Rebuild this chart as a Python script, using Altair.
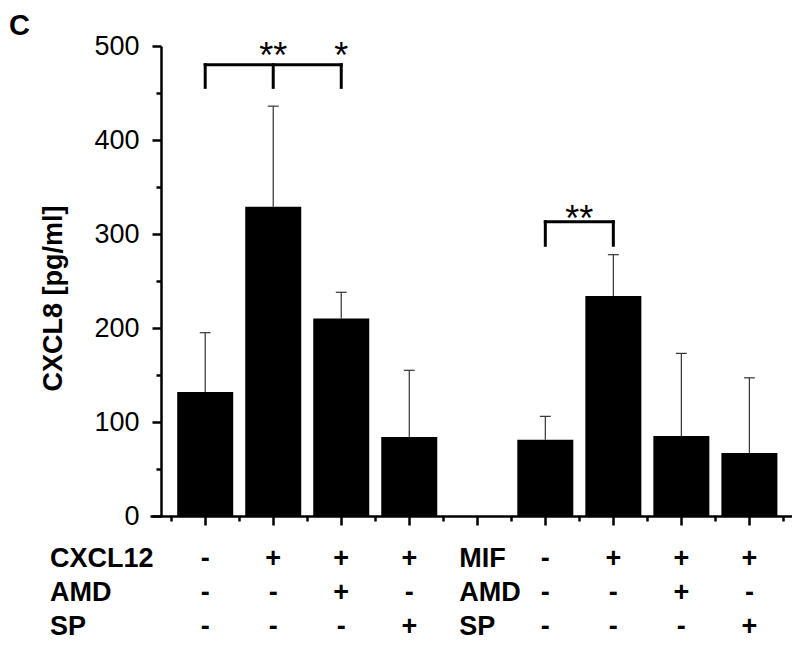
import altair as alt
import pandas as pd

FONT = "Liberation Sans"

# ---- data ----
positions = [1, 2, 3, 4, 6, 7, 8, 9]
means = [132, 329, 210, 84, 81, 234, 85, 67]
err_tops = [195, 436, 238, 155, 106, 278, 173, 147]

row_names = ["CXCL12", "AMD", "SP"]
group2_names = ["MIF", "AMD", "SP"]
cxcl_signs = ["-", "+", "+", "+", "-", "+", "+", "+"]
amd_signs = ["-", "-", "+", "-", "-", "-", "+", "-"]
sp_signs = ["-", "-", "-", "+", "-", "-", "-", "+"]

y_ticks = [0, 50, 100, 150, 200, 250, 300, 350, 400, 450, 500]
x_ticks = [0.5, 1, 1.5, 2, 2.5, 3, 3.5, 4, 4.5, 5, 5.5, 6, 6.5, 7, 7.5, 8, 8.5, 9, 9.5]

bracket_h_x1 = [1, 6]
bracket_h_x2 = [3, 7]
bracket_h_y = [480, 313]
bracket_v_x = [1, 2, 3, 6, 7]
bracket_v_top = [480, 480, 480, 313, 313]
bracket_v_bottom = [456, 456, 456, 288, 288]
star_x = [2, 3, 6.5]
star_text = ["**", "*", "**"]
star_y = [477, 477, 303]

# ---- tables ----
bars_df = pd.DataFrame({"pos": positions, "mean": means, "top": err_tops})
signs_df = pd.DataFrame({"pos": positions, "r0": cxcl_signs, "r1": amd_signs, "r2": sp_signs})
bh_df = pd.DataFrame({"x1": bracket_h_x1, "x2": bracket_h_x2, "y": bracket_h_y})
bv_df = pd.DataFrame({"x": bracket_v_x, "y1": bracket_v_top, "y2": bracket_v_bottom})
star_df = pd.DataFrame({"x": star_x, "t": star_text, "y": star_y})

xscale = alt.Scale(domain=[0.262, 9.553], nice=False, zero=False)
yscale = alt.Scale(domain=[0, 500], nice=False)

xaxis = alt.Axis(
    values=x_ticks, labels=False, grid=False, title=None,
    tickSize={"condition": {"test": "datum.value % 1 === 0", "value": 9}, "value": 5},
    tickWidth=2.5, domainWidth=2.5, domainColor="black", tickColor="black", zindex=1,
)
yaxis = alt.Axis(
    values=y_ticks, grid=False, title="CXCL8 [pg/ml]", offset=-11,
    labelExpr="datum.value % 100 === 0 ? datum.label : ''",
    tickSize={"condition": {"test": "datum.value % 100 === 0", "value": 9}, "value": 5},
    tickWidth=2.5, domainWidth=2.5, domainColor="black", tickColor="black",
    labelFont=FONT, labelFontSize=27, labelColor="black", labelPadding=13,
    titleFont=FONT, titleFontSize=27, titleFontWeight="bold", titleColor="black",
    titleX=-108, titleY=252, titleBaseline="middle", titleAngle=270, zindex=1,
)


def X(field):
    return alt.X(field, type="quantitative", scale=xscale, axis=xaxis)


def Y(field):
    return alt.Y(field, type="quantitative", scale=yscale, axis=yaxis)


bars = alt.Chart(bars_df).mark_bar(size=56, color="black").encode(x=X("pos"), y=Y("mean"))

err = alt.Chart(bars_df).mark_rule(color="#333333", strokeWidth=1.2).encode(
    x=X("pos"), y=Y("mean"), y2="top"
)
caps = alt.Chart(bars_df).transform_calculate(
    xl="datum.pos - 0.08", xr="datum.pos + 0.08"
).mark_rule(color="#333333", strokeWidth=1.2).encode(x=X("xl"), x2="xr", y=Y("top"))

bh = alt.Chart(bh_df).mark_rule(color="black", strokeWidth=3, strokeCap="square").encode(
    x=X("x1"), x2="x2", y=Y("y")
)
bv = alt.Chart(bv_df).mark_rule(color="black", strokeWidth=3, strokeCap="square").encode(
    x=X("x"), y=Y("y1"), y2="y2"
)
stars = alt.Chart(star_df).mark_text(
    font=FONT, fontSize=36, color="black", baseline="alphabetic", align="center"
).encode(x=X("x"), y=Y("y"), text="t:N")

layers = [bars, err, caps, bh, bv, stars]

row_baselines = [521, 555, 589]
for i, base in enumerate(row_baselines):
    layers.append(
        alt.Chart(signs_df).mark_text(
            font=FONT, fontSize=27, fontWeight="bold", color="black",
            baseline="alphabetic", align="center",
        ).encode(x=X("pos"), y=alt.value(base), text=f"r{i}:N")
    )
    layers.append(
        alt.Chart(pd.DataFrame({"name": [row_names[i]]})).mark_text(
            font=FONT, fontSize=27, fontWeight="bold", color="black",
            baseline="alphabetic", align="left",
        ).encode(x=alt.value(-100), y=alt.value(base), text="name:N")
    )
    layers.append(
        alt.Chart(pd.DataFrame({"name": [group2_names[i]], "pos": [5]})).mark_text(
            font=FONT, fontSize=27, fontWeight="bold", color="black",
            baseline="alphabetic", align="left", dx=-18,
        ).encode(x=X("pos"), y=alt.value(base), text="name:N")
    )

layers.append(
    alt.Chart(pd.DataFrame({"name": ["C"]})).mark_text(
        font=FONT, fontSize=29, fontWeight="bold", color="black",
        baseline="alphabetic", align="left",
    ).encode(x=alt.value(-141), y=alt.value(-11), text="name:N")
)

chart = alt.layer(*layers).properties(
    width=642, height=470,
    padding={"left": 142, "top": 38, "right": 0, "bottom": 129},
    autosize=alt.AutoSizeParams(type="none"),
    background="white",
).configure_view(stroke=None)

chart.save("out.html", embed_options={"renderer": "svg", "actions": False})
